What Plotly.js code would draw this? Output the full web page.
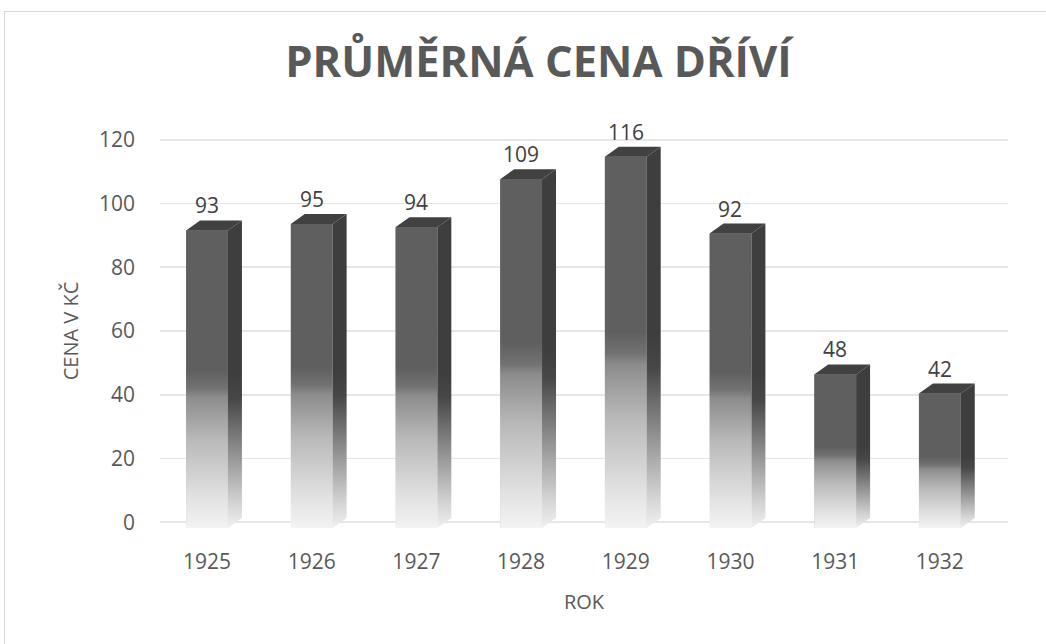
<!DOCTYPE html>
<html>
<head>
<meta charset="utf-8">
<script src="https://cdn.plot.ly/plotly-3.0.1.min.js"></script>
<style>
  html, body { margin: 0; padding: 0; background: #ffffff; }
  #wrap { position: relative; width: 1046px; height: 644px; overflow: hidden; }
  #chart { position: absolute; left: 0; top: 0; width: 1046px; height: 644px; }
  #frame { position: absolute; left: 4px; top: 11px; width: 1100px; height: 700px;
           border: 1px solid #d9d9d9; pointer-events: none; }
</style>
</head>
<body>
<div id="wrap">
  <div id="chart"></div>
  <div id="frame"></div>
</div>
<script>
// ---- data ----
const years = ['1925', '1926', '1927', '1928', '1929', '1930', '1931', '1932'];
const prices = [93, 95, 94, 109, 116, 92, 48, 42];
const yTickVals = [0, 20, 40, 60, 80, 100, 120];
const titleText = 'PRŮMĚRNÁ CENA DŘÍVÍ';
const xTitle = 'ROK';
const yTitle = 'CENA V KČ';

// ---- style constants (3D look) ----
const halfW = 0.2;          // half width of the front face (category units)
const depthX = 0.1337;      // depth offset to the right (category units)
const depthY = 3.125;       // depth offset upward (value units on y2)
const font = 'Open Sans, Noto Sans, sans-serif';
const textColor = '#595959';

const idx = years.map((_, i) => i);
const traces = [];

// empty trace so the back-wall axis (gridlines, tick labels) gets drawn
traces.push({ type: 'scatter', mode: 'none', x: [], y: [], yaxis: 'y', hoverinfo: 'skip', showlegend: false });

// base bars (front faces)
traces.push({
  type: 'bar', x: idx, y: prices, yaxis: 'y2', width: 0.39,
  marker: { color: '#5f5f5f', line: { width: 0 } },
  hoverinfo: 'skip', showlegend: false
});

const frontScale = [[0, '#f3f3f3'], [0.1, '#e2e2e2'], [0.3, '#b8b8b8'], [0.44, '#8c8c8c'],
                    [0.47, '#727272'], [0.53, '#5f5f5f'], [1, '#5f5f5f']];
const sideScale = [[0, '#f0f0f0'], [0.08, '#d4d4d4'], [0.25, '#8e8e8e'], [0.42, '#474747'],
                   [0.5, '#3e3e3e'], [1, '#3e3e3e']];

idx.forEach((i) => {
  const v = prices[i];
  // front face with gradient
  traces.push({
    type: 'scatter', mode: 'none', yaxis: 'y2',
    x: [i - halfW, i + halfW, i + halfW, i - halfW, i - halfW],
    y: [0, 0, v, v, 0],
    fill: 'toself', fillgradient: { type: 'vertical', colorscale: frontScale },
    hoverinfo: 'skip', showlegend: false
  });
  // side face
  traces.push({
    type: 'scatter', mode: 'none', yaxis: 'y2',
    x: [i + halfW, i + halfW + depthX, i + halfW + depthX, i + halfW, i + halfW],
    y: [0, depthY, v + depthY, v, 0],
    fill: 'toself', fillgradient: { type: 'vertical', colorscale: sideScale },
    hoverinfo: 'skip', showlegend: false
  });
  // top face
  traces.push({
    type: 'scatter', mode: 'none', yaxis: 'y2',
    x: [i - halfW, i + halfW, i + halfW + depthX, i - halfW + depthX, i - halfW],
    y: [v, v, v + depthY, v + depthY, v],
    fill: 'toself', fillcolor: '#414141',
    hoverinfo: 'skip', showlegend: false
  });
});

const annotations = idx.map((i) => ({
  x: i, y: prices[i], xref: 'x', yref: 'y2',
  text: String(prices[i]), showarrow: false,
  yanchor: 'middle', xanchor: 'center', yshift: 25,
  font: { family: font, size: 21, color: '#404040' }
}));

const layout = {
  width: 1046, height: 644,
  paper_bgcolor: 'rgba(0,0,0,0)', plot_bgcolor: 'rgba(0,0,0,0)',
  margin: { l: 160, r: 38, t: 127, b: 109 },
  showlegend: false,
  title: {
    text: titleText,
    font: { family: font, size: 43.5, weight: 700, color: textColor },
    xref: 'container', yref: 'container',
    x: 0.5148, xanchor: 'center', y: 1 - 62 / 644, yanchor: 'middle'
  },
  xaxis: {
    range: [-0.449, 7.651],
    tickmode: 'array', tickvals: idx, ticktext: years,
    showgrid: false, zeroline: false, showline: false, ticks: '',
    tickfont: { family: font, size: 21, color: textColor },
    ticklabelstandoff: 12,
    title: { text: xTitle, font: { family: font, size: 20, color: textColor }, standoff: 20 },
    fixedrange: true
  },
  yaxis: {
    range: [-4, 124],
    tickmode: 'array', tickvals: yTickVals,
    showgrid: true, gridcolor: '#e6e6e6', gridwidth: 1.6,
    zeroline: false, showline: false, ticks: '',
    tickfont: { family: font, size: 21, color: textColor },
    ticklabelstandoff: 24,
    title: { text: yTitle, font: { family: font, size: 20, color: textColor }, standoff: 14 },
    fixedrange: true
  },
  yaxis2: {
    overlaying: 'y', range: [-2.1875, 125.3125],
    showgrid: false, zeroline: false, showline: false, showticklabels: false, ticks: '',
    fixedrange: true
  },
  annotations: annotations
};

Plotly.newPlot('chart', traces, layout, { staticPlot: true, displayModeBar: false });
</script>
</body>
</html>
